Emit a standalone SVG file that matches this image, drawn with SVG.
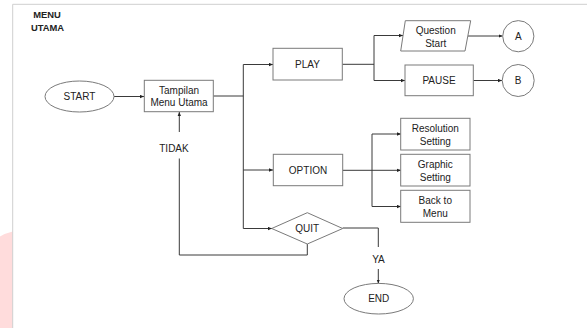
<svg xmlns="http://www.w3.org/2000/svg" width="587" height="328" viewBox="0 0 587 328">
<style>
.shape{fill:#fff;stroke:#7a7a7a;stroke-width:1}
.conn{fill:none;stroke:#3a3a3a;stroke-width:1}
text{font-family:"Liberation Sans",Arial,sans-serif;font-size:10px;fill:#222;text-anchor:middle;dominant-baseline:central}
.title{font-weight:bold;font-size:9.4px}
</style>
<defs>
<marker id="arr" viewBox="0 0 6 6" refX="6" refY="3" markerWidth="4" markerHeight="4" orient="auto" markerUnits="userSpaceOnUse">
<path d="M0,0.5 L6,3 L0,5.5 Z" fill="#222"/>
</marker>
</defs>
<rect width="587" height="328" fill="#fff"/>
<path d="M0,236.5 Q6,233 12.7,231.5 L12.7,328 L0,328 Z" fill="#ffdcdc"/>
<path d="M12.7,328 V4.3 H587" fill="none" stroke="#cfcfcf" stroke-width="1"/>
<g id="title">
<text class="title" x="47" y="14.7">MENU</text>
<text class="title" x="47.5" y="27.3">UTAMA</text>
</g>
<g id="connectors">
<path class="conn" d="M114,96.5 H144" marker-end="url(#arr)"/>
<path class="conn" d="M213.3,96 H243.3"/>
<path class="conn" d="M243.3,64.5 V228.5"/>
<path class="conn" d="M243.3,64.5 H273" marker-end="url(#arr)"/>
<path class="conn" d="M243.3,170 H273" marker-end="url(#arr)"/>
<path class="conn" d="M243.3,228.5 H272" marker-end="url(#arr)"/>
<path class="conn" d="M342.3,64.3 H374"/>
<path class="conn" d="M374,35.5 V80.5"/>
<path class="conn" d="M374,35.5 H403" marker-end="url(#arr)"/>
<path class="conn" d="M374,80.5 H405" marker-end="url(#arr)"/>
<path class="conn" d="M468,36 H502.5" marker-end="url(#arr)"/>
<path class="conn" d="M473.3,80.5 H502" marker-end="url(#arr)"/>
<path class="conn" d="M342.7,170.3 H372"/>
<path class="conn" d="M372,134 V206.5"/>
<path class="conn" d="M372,134 H401" marker-end="url(#arr)"/>
<path class="conn" d="M372,170.3 H401" marker-end="url(#arr)"/>
<path class="conn" d="M372,206.5 H401" marker-end="url(#arr)"/>
<path class="conn" d="M307.3,244 V255 H179.3 V158.5"/>
<path class="conn" d="M179.3,132 V112" marker-end="url(#arr)"/>
<text x="174" y="148.3">TIDAK</text>
<path class="conn" d="M342.7,228 H378.3 V247"/>
<path class="conn" d="M378.3,269 V283.5" marker-end="url(#arr)"/>
<text x="378.5" y="259">YA</text>
</g>
<g id="start">
<ellipse class="shape" cx="79.5" cy="96.5" rx="34.5" ry="15.5"/>
<text x="79.5" y="96.5">START</text>
</g>
<g id="tampilan">
<rect class="shape" x="144.3" y="80.3" width="69" height="31.4"/>
<text x="179" y="90.7">Tampilan</text>
<text x="179" y="102.7">Menu Utama</text>
</g>
<g id="play">
<rect class="shape" x="273" y="48.3" width="69.3" height="31.7"/>
<text x="307.5" y="64.3">PLAY</text>
</g>
<g id="question">
<polygon class="shape" points="405.3,20.7 470.7,20.7 465,51 400.7,51"/>
<text x="435.7" y="30.7">Question</text>
<text x="435.7" y="43.3">Start</text>
</g>
<g id="pause">
<rect class="shape" x="405" y="65" width="68.3" height="30.7"/>
<text x="439" y="80.5">PAUSE</text>
</g>
<g id="a">
<circle class="shape" cx="518.3" cy="36.2" r="15.6"/>
<text x="518.3" y="36.2">A</text>
</g>
<g id="b">
<circle class="shape" cx="518.2" cy="80.5" r="16"/>
<text x="518.2" y="80.5">B</text>
</g>
<g id="option">
<rect class="shape" x="273.3" y="154.3" width="69.4" height="31.4"/>
<text x="308" y="170.3">OPTION</text>
</g>
<g id="resolution">
<rect class="shape" x="400.7" y="118.3" width="69.3" height="31.7"/>
<text x="435.3" y="128.3">Resolution</text>
<text x="435.3" y="141">Setting</text>
</g>
<g id="graphic">
<rect class="shape" x="400.7" y="154.3" width="69.3" height="31.7"/>
<text x="435.3" y="164.3">Graphic</text>
<text x="435.3" y="177">Setting</text>
</g>
<g id="back">
<rect class="shape" x="400.7" y="190.3" width="69.3" height="32"/>
<text x="435.3" y="200.5">Back to</text>
<text x="435.3" y="213">Menu</text>
</g>
<g id="quit">
<polygon class="shape" points="271.7,228.5 307.3,212.7 342.7,228.5 307.3,244"/>
<text x="307.3" y="228.5">QUIT</text>
</g>
<g id="end">
<ellipse class="shape" cx="378.7" cy="298.7" rx="34.7" ry="15.3"/>
<text x="378.7" y="298.7">END</text>
</g>
</svg>
